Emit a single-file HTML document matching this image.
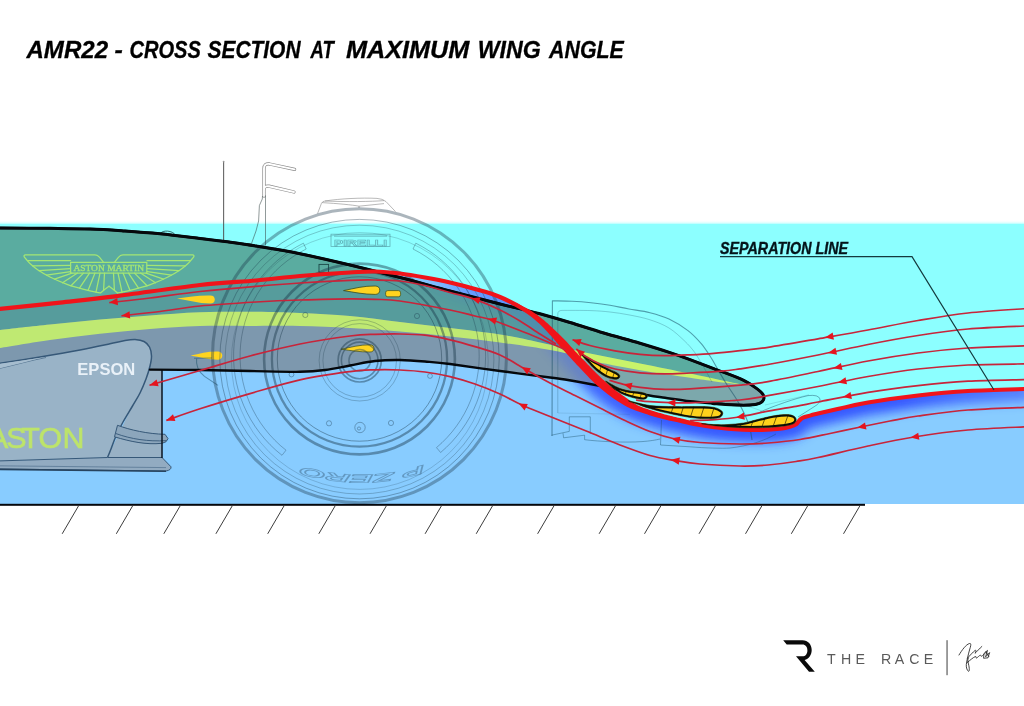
<!DOCTYPE html>
<html lang="en">
<head>
<meta charset="utf-8">
<title>AMR22 - Cross section at maximum wing angle</title>
<style>
html,body{margin:0;padding:0;background:#fff;}
body{width:1024px;height:706px;overflow:hidden;position:relative;font-family:"Liberation Sans",sans-serif;}
svg{display:block;position:absolute;left:0;top:0;}
text{font-family:"Liberation Sans",sans-serif;}
</style>
</head>
<body>
<svg width="1024" height="706" viewBox="0 0 1024 706">
<defs>
<clipPath id="above"><path d="M-5,309.4C-4.2,309.3 -10.8,310 0,308.9C10.8,307.8 40.8,304.7 60,302.6C79.2,300.5 91.7,299.3 115,296.4C138.3,293.5 176.5,287.6 200,285C223.5,282.4 239.3,282 256,280.5C272.7,279 284.3,277.3 300,276C315.7,274.7 337.5,273.2 350,272.5C362.5,271.8 366.7,271.3 375,271.5C383.3,271.7 391.7,272.5 400,273.5C408.3,274.5 416.7,276 425,277.5C433.3,279 441.7,280.6 450,282.5C458.3,284.4 466.7,286.6 475,289C483.3,291.4 491.7,293.5 500,297C508.3,300.5 518.3,305.9 525,310C531.7,314.1 535.5,317.5 540,321.5C544.5,325.5 547.8,329.3 552,334C556.2,338.7 561.2,344.7 565.5,349.5C569.8,354.3 573.8,358.5 578,363C582.2,367.5 587,372.7 591,376.7C595,380.7 598,383.6 602,387C606,390.4 610,393.7 615,397C620,400.3 626.2,404.3 632,407C637.8,409.7 644.4,411.4 650,413.2C655.6,415 660.4,416.3 665.6,417.6C670.8,418.9 675.8,419.8 681,421C686.2,422.2 689.2,423.3 697,424.6C704.8,425.9 717.6,427.9 728,428.8C738.4,429.7 750.7,430 759.4,430C768.1,430 774.8,429.4 780,428.8C785.2,428.2 787.9,427.4 790.6,426.6C793.4,425.8 795,425 796.5,424C798,423 798.2,421.7 799.3,420.6C800.4,419.5 801.2,418.4 803,417.6C804.8,416.8 807.5,416.3 810,415.6C812.5,414.9 813,414.8 818,413.6C823,412.4 831.7,410.4 840,408.5C848.3,406.6 855,404.7 868,402.5C881,400.3 901.3,397.4 918,395.5C934.7,393.6 950.3,392.1 968,391C985.7,389.9 1013.7,389.3 1024,389C1034.3,388.7 1029,389 1030,389L1030,200L-5,200Z"/></clipPath>
<clipPath id="below"><path d="M-5,309.4C-4.2,309.3 -10.8,310 0,308.9C10.8,307.8 40.8,304.7 60,302.6C79.2,300.5 91.7,299.3 115,296.4C138.3,293.5 176.5,287.6 200,285C223.5,282.4 239.3,282 256,280.5C272.7,279 284.3,277.3 300,276C315.7,274.7 337.5,273.2 350,272.5C362.5,271.8 366.7,271.3 375,271.5C383.3,271.7 391.7,272.5 400,273.5C408.3,274.5 416.7,276 425,277.5C433.3,279 441.7,280.6 450,282.5C458.3,284.4 466.7,286.6 475,289C483.3,291.4 491.7,293.5 500,297C508.3,300.5 518.3,305.9 525,310C531.7,314.1 535.5,317.5 540,321.5C544.5,325.5 547.8,329.3 552,334C556.2,338.7 561.2,344.7 565.5,349.5C569.8,354.3 573.8,358.5 578,363C582.2,367.5 587,372.7 591,376.7C595,380.7 598,383.6 602,387C606,390.4 610,393.7 615,397C620,400.3 626.2,404.3 632,407C637.8,409.7 644.4,411.4 650,413.2C655.6,415 660.4,416.3 665.6,417.6C670.8,418.9 675.8,419.8 681,421C686.2,422.2 689.2,423.3 697,424.6C704.8,425.9 717.6,427.9 728,428.8C738.4,429.7 750.7,430 759.4,430C768.1,430 774.8,429.4 780,428.8C785.2,428.2 787.9,427.4 790.6,426.6C793.4,425.8 795,425 796.5,424C798,423 798.2,421.7 799.3,420.6C800.4,419.5 801.2,418.4 803,417.6C804.8,416.8 807.5,416.3 810,415.6C812.5,414.9 813,414.8 818,413.6C823,412.4 831.7,410.4 840,408.5C848.3,406.6 855,404.7 868,402.5C881,400.3 901.3,397.4 918,395.5C934.7,393.6 950.3,392.1 968,391C985.7,389.9 1013.7,389.3 1024,389C1034.3,388.7 1029,389 1030,389L1030,520L-5,520Z"/></clipPath>
<clipPath id="noseclip"><path d="M-5,228C-4.2,228 -9.2,227.9 0,228C9.2,228.1 35,228.1 50,228.3C65,228.5 77.5,228.6 90,229C102.5,229.4 113.3,230.2 125,231C136.7,231.8 147.5,232.6 160,233.8C172.5,235.1 189.2,237.2 200,238.5C210.8,239.8 215.7,240.2 225,241.5C234.3,242.8 243.5,244 256,246C268.5,248 284.3,250.5 300,253.7C315.7,256.9 333.3,261 350,265C366.7,269 383.3,273.2 400,277.5C416.7,281.8 433.3,286.6 450,291C466.7,295.4 487.5,300.8 500,304C512.5,307.2 518.3,308.4 525,310C531.7,311.6 532.5,311.7 540,313.8C547.5,315.9 559.4,319.3 570,322.5C580.6,325.7 592,329.5 603.7,333C615.4,336.5 629,340 640,343.3C651,346.6 661.7,349.9 670,352.6C678.3,355.3 682.7,356.9 690,359.6C697.3,362.3 704.8,365.2 713.7,368.6C722.7,372.1 736.4,376.8 743.7,380.3C751.1,383.8 754.6,387 757.8,389.4C761,391.8 762,392.8 763,394.5C764,396.2 764.2,398 763.6,399.5C763,401 761.7,402.5 759.4,403.4C757.1,404.3 754.7,404.8 750,405C745.3,405.2 737.2,405.1 731,404.8C724.8,404.5 719.3,404 712.5,403.4C705.7,402.8 697.9,402.2 690,401.3C682.1,400.4 673.3,399 665,397.8C656.7,396.6 648.3,395.5 640,394C631.7,392.5 623.3,390.7 615,389C606.7,387.3 598.3,385.6 590,384C581.7,382.4 571.7,380.6 565,379.5C558.3,378.4 560.8,378.9 550,377.5C539.2,376.1 516.7,373.2 500,371C483.3,368.8 462.5,365.6 450,364C437.5,362.4 433.3,362.2 425,361.5C416.7,360.8 408.3,360.1 400,360C391.7,359.9 383.3,360.1 375,361C366.7,361.9 358.3,364 350,365.5C341.7,367 333.3,368.9 325,370C316.7,371.1 312.5,371.6 300,371.8C287.5,372 266.7,371.3 250,371C233.3,370.7 216.7,370.2 200,370C183.3,369.8 158.3,369.7 150,369.6L-5,369.6Z"/></clipPath>
<clipPath id="field"><rect x="0" y="223" width="1024" height="281"/></clipPath>
<filter id="blur4" x="-20%" y="-50%" width="140%" height="200%"><feGaussianBlur stdDeviation="5.5"/></filter>
<filter id="blur1" x="-5%" y="-5%" width="110%" height="110%"><feGaussianBlur stdDeviation="0.6"/></filter>
<linearGradient id="glowg" gradientUnits="userSpaceOnUse" x1="380" y1="0" x2="1024" y2="0"><stop offset="0" stop-color="#3050ff" stop-opacity="0"/><stop offset="0.06" stop-color="#3050ff" stop-opacity="0"/><stop offset="0.14" stop-color="#3050ff" stop-opacity="0.42"/><stop offset="0.24" stop-color="#3050ff" stop-opacity="0.5"/><stop offset="0.31" stop-color="#3050ff" stop-opacity="0.8"/><stop offset="0.45" stop-color="#2a48ff" stop-opacity="0.88"/><stop offset="0.80" stop-color="#2a48ff" stop-opacity="0.88"/><stop offset="1" stop-color="#3050ff" stop-opacity="0.6"/></linearGradient>
<linearGradient id="topfade" x1="0" y1="0" x2="0" y2="1"><stop offset="0" stop-color="#fff"/><stop offset="0.45" stop-color="#f0ffff"/><stop offset="0.75" stop-color="#c8ffff"/><stop offset="1" stop-color="#8cffff"/></linearGradient>
</defs>
<rect x="0" y="223.5" width="1024" height="280.5" fill="#88ccff"/>
<g clip-path="url(#field)"><path d="M-5,309.4C-4.2,309.3 -10.8,310 0,308.9C10.8,307.8 40.8,304.7 60,302.6C79.2,300.5 91.7,299.3 115,296.4C138.3,293.5 176.5,287.6 200,285C223.5,282.4 239.3,282 256,280.5C272.7,279 284.3,277.3 300,276C315.7,274.7 337.5,273.2 350,272.5C362.5,271.8 366.7,271.3 375,271.5C383.3,271.7 391.7,272.5 400,273.5C408.3,274.5 416.7,276 425,277.5C433.3,279 441.7,280.6 450,282.5C458.3,284.4 466.7,286.6 475,289C483.3,291.4 491.7,293.5 500,297C508.3,300.5 518.3,305.9 525,310C531.7,314.1 535.5,317.5 540,321.5C544.5,325.5 547.8,329.3 552,334C556.2,338.7 561.2,344.7 565.5,349.5C569.8,354.3 573.8,358.5 578,363C582.2,367.5 587,372.7 591,376.7C595,380.7 598,383.6 602,387C606,390.4 610,393.7 615,397C620,400.3 626.2,404.3 632,407C637.8,409.7 644.4,411.4 650,413.2C655.6,415 660.4,416.3 665.6,417.6C670.8,418.9 675.8,419.8 681,421C686.2,422.2 689.2,423.3 697,424.6C704.8,425.9 717.6,427.9 728,428.8C738.4,429.7 750.7,430 759.4,430C768.1,430 774.8,429.4 780,428.8C785.2,428.2 787.9,427.4 790.6,426.6C793.4,425.8 795,425 796.5,424C798,423 798.2,421.7 799.3,420.6C800.4,419.5 801.2,418.4 803,417.6C804.8,416.8 807.5,416.3 810,415.6C812.5,414.9 813,414.8 818,413.6C823,412.4 831.7,410.4 840,408.5C848.3,406.6 855,404.7 868,402.5C881,400.3 901.3,397.4 918,395.5C934.7,393.6 950.3,392.1 968,391C985.7,389.9 1013.7,389.3 1024,389C1034.3,388.7 1029,389 1030,389L1030,200L-5,200Z" fill="#8cffff"/></g>
<rect x="0" y="220.2" width="1024" height="4.3" fill="url(#topfade)"/>
<g clip-path="url(#below)"><g clip-path="url(#field)"><path d="M400,273.5C404.2,274.2 416.7,276 425,277.5C433.3,279 441.7,280.6 450,282.5C458.3,284.4 466.7,286.6 475,289C483.3,291.4 491.7,293.5 500,297C508.3,300.5 518.3,305.9 525,310C531.7,314.1 535.5,317.5 540,321.5C544.5,325.5 547.8,329.3 552,334C556.2,338.7 561.2,344.7 565.5,349.5C569.8,354.3 573.8,358.5 578,363C582.2,367.5 587,372.7 591,376.7C595,380.7 598,383.6 602,387C606,390.4 610,393.7 615,397C620,400.3 626.2,404.3 632,407C637.8,409.7 644.4,411.4 650,413.2C655.6,415 660.4,416.3 665.6,417.6C670.8,418.9 675.8,419.8 681,421C686.2,422.2 689.2,423.3 697,424.6C704.8,425.9 717.6,427.9 728,428.8C738.4,429.7 750.7,430 759.4,430C768.1,430 774.8,429.4 780,428.8C785.2,428.2 787.9,427.4 790.6,426.6C793.4,425.8 795,425 796.5,424C798,423 798.2,421.7 799.3,420.6C800.4,419.5 801.2,418.4 803,417.6C804.8,416.8 807.5,416.3 810,415.6C812.5,414.9 813,414.8 818,413.6C823,412.4 831.7,410.4 840,408.5C848.3,406.6 855,404.7 868,402.5C881,400.3 901.3,397.4 918,395.5C934.7,393.6 950.3,392.1 968,391C985.7,389.9 1013.7,389.3 1024,389C1034.3,388.7 1029,389 1030,389" fill="none" stroke="url(#glowg)" stroke-width="25" filter="url(#blur4)"/></g></g>
<g id="nose">
<g clip-path="url(#below)">
<path d="M-5,228C-4.2,228 -9.2,227.9 0,228C9.2,228.1 35,228.1 50,228.3C65,228.5 77.5,228.6 90,229C102.5,229.4 113.3,230.2 125,231C136.7,231.8 147.5,232.6 160,233.8C172.5,235.1 189.2,237.2 200,238.5C210.8,239.8 215.7,240.2 225,241.5C234.3,242.8 243.5,244 256,246C268.5,248 284.3,250.5 300,253.7C315.7,256.9 333.3,261 350,265C366.7,269 383.3,273.2 400,277.5C416.7,281.8 433.3,286.6 450,291C466.7,295.4 487.5,300.8 500,304C512.5,307.2 518.3,308.4 525,310C531.7,311.6 532.5,311.7 540,313.8C547.5,315.9 559.4,319.3 570,322.5C580.6,325.7 592,329.5 603.7,333C615.4,336.5 629,340 640,343.3C651,346.6 661.7,349.9 670,352.6C678.3,355.3 682.7,356.9 690,359.6C697.3,362.3 704.8,365.2 713.7,368.6C722.7,372.1 736.4,376.8 743.7,380.3C751.1,383.8 754.6,387 757.8,389.4C761,391.8 762,392.8 763,394.5C764,396.2 764.2,398 763.6,399.5C763,401 761.7,402.5 759.4,403.4C757.1,404.3 754.7,404.8 750,405C745.3,405.2 737.2,405.1 731,404.8C724.8,404.5 719.3,404 712.5,403.4C705.7,402.8 697.9,402.2 690,401.3C682.1,400.4 673.3,399 665,397.8C656.7,396.6 648.3,395.5 640,394C631.7,392.5 623.3,390.7 615,389C606.7,387.3 598.3,385.6 590,384C581.7,382.4 571.7,380.6 565,379.5C558.3,378.4 560.8,378.9 550,377.5C539.2,376.1 516.7,373.2 500,371C483.3,368.8 462.5,365.6 450,364C437.5,362.4 433.3,362.2 425,361.5C416.7,360.8 408.3,360.1 400,360C391.7,359.9 383.3,360.1 375,361C366.7,361.9 358.3,364 350,365.5C341.7,367 333.3,368.9 325,370C316.7,371.1 312.5,371.6 300,371.8C287.5,372 266.7,371.3 250,371C233.3,370.7 216.7,370.2 200,370C183.3,369.8 158.3,369.7 150,369.6L-5,369.6Z" fill="#7d98ae"/>
<g clip-path="url(#noseclip)"><path d="M-5,331C-4.2,330.8 -9.2,331.1 0,330C9.2,328.9 33.3,326.2 50,324.5C66.7,322.8 83.3,321 100,319.5C116.7,318 133.3,316.7 150,315.5C166.7,314.3 182.3,312.9 200,312.3C217.7,311.7 239.3,311.7 256,311.8C272.7,311.9 284.3,312.3 300,313C315.7,313.7 333.3,314.5 350,316C366.7,317.5 383.3,320 400,322C416.7,324 433.3,325.9 450,328C466.7,330.1 485,332.1 500,334.5C515,336.9 525,339.3 540,342.5C555,345.7 573.3,350.1 590,353.6C606.7,357.1 623.3,360.1 640,363.4C656.7,366.7 676.7,370.8 690,373.6C703.3,376.4 711.3,378.2 720,380C728.7,381.8 738.3,383.8 742,384.6L760,380L760,200L-5,200Z" fill="#569c9c"/></g>
<g clip-path="url(#noseclip)" opacity="0.36"><path d="M400,273.5C404.2,274.2 416.7,276 425,277.5C433.3,279 441.7,280.6 450,282.5C458.3,284.4 466.7,286.6 475,289C483.3,291.4 491.7,293.5 500,297C508.3,300.5 518.3,305.9 525,310C531.7,314.1 535.5,317.5 540,321.5C544.5,325.5 547.8,329.3 552,334C556.2,338.7 561.2,344.7 565.5,349.5C569.8,354.3 573.8,358.5 578,363C582.2,367.5 587,372.7 591,376.7C595,380.7 598,383.6 602,387C606,390.4 610,393.7 615,397C620,400.3 626.2,404.3 632,407C637.8,409.7 644.4,411.4 650,413.2C655.6,415 660.4,416.3 665.6,417.6C670.8,418.9 675.8,419.8 681,421C686.2,422.2 689.2,423.3 697,424.6C704.8,425.9 717.6,427.9 728,428.8C738.4,429.7 750.7,430 759.4,430C768.1,430 774.8,429.4 780,428.8C785.2,428.2 787.9,427.4 790.6,426.6C793.4,425.8 795,425 796.5,424C798,423 798.2,421.7 799.3,420.6C800.4,419.5 801.2,418.4 803,417.6C804.8,416.8 807.5,416.3 810,415.6C812.5,414.9 813,414.8 818,413.6C823,412.4 831.7,410.4 840,408.5C848.3,406.6 855,404.7 868,402.5C881,400.3 901.3,397.4 918,395.5C934.7,393.6 950.3,392.1 968,391C985.7,389.9 1013.7,389.3 1024,389C1034.3,388.7 1029,389 1030,389" fill="none" stroke="url(#glowg)" stroke-width="25" filter="url(#blur4)"/></g>
<path d="M-5,331C-4.2,330.8 -9.2,331.1 0,330C9.2,328.9 33.3,326.2 50,324.5C66.7,322.8 83.3,321 100,319.5C116.7,318 133.3,316.7 150,315.5C166.7,314.3 182.3,312.9 200,312.3C217.7,311.7 239.3,311.7 256,311.8C272.7,311.9 284.3,312.3 300,313C315.7,313.7 333.3,314.5 350,316C366.7,317.5 383.3,320 400,322C416.7,324 433.3,325.9 450,328C466.7,330.1 485,332.1 500,334.5C515,336.9 525,339.3 540,342.5C555,345.7 573.3,350.1 590,353.6C606.7,357.1 623.3,360.1 640,363.4C656.7,366.7 676.7,370.8 690,373.6C703.3,376.4 711.3,378.2 720,380C728.7,381.8 738.3,383.8 742,384.6C737.5,384.1 723.7,382.5 715,381.4C706.3,380.3 702.5,379.7 690,377.8C677.5,375.9 656.7,373.1 640,370.2C623.3,367.3 600.8,363.1 590,360.6C579.2,358.2 581.7,357.3 575,355.5C568.3,353.7 562.5,352.2 550,350C537.5,347.8 516.7,344.8 500,342.5C483.3,340.2 466.7,338.3 450,336.5C433.3,334.7 416.7,332.9 400,331.5C383.3,330.1 366.7,328.9 350,328C333.3,327.1 315.7,326.3 300,326C284.3,325.7 272.7,326 256,326C239.3,326 217.7,325.5 200,326C182.3,326.5 166.7,327.7 150,329C133.3,330.3 116.7,332 100,333.8C83.3,335.6 66.7,337.6 50,340C33.3,342.4 9.2,346.5 0,348C-9.2,349.5 -4.2,348.8 -5,349Z" fill="#bfe972"/>
</g>
<g clip-path="url(#above)">
<path d="M-5,228C-4.2,228 -9.2,227.9 0,228C9.2,228.1 35,228.1 50,228.3C65,228.5 77.5,228.6 90,229C102.5,229.4 113.3,230.2 125,231C136.7,231.8 147.5,232.6 160,233.8C172.5,235.1 189.2,237.2 200,238.5C210.8,239.8 215.7,240.2 225,241.5C234.3,242.8 243.5,244 256,246C268.5,248 284.3,250.5 300,253.7C315.7,256.9 333.3,261 350,265C366.7,269 383.3,273.2 400,277.5C416.7,281.8 433.3,286.6 450,291C466.7,295.4 487.5,300.8 500,304C512.5,307.2 518.3,308.4 525,310C531.7,311.6 532.5,311.7 540,313.8C547.5,315.9 559.4,319.3 570,322.5C580.6,325.7 592,329.5 603.7,333C615.4,336.5 629,340 640,343.3C651,346.6 661.7,349.9 670,352.6C678.3,355.3 682.7,356.9 690,359.6C697.3,362.3 704.8,365.2 713.7,368.6C722.7,372.1 736.4,376.8 743.7,380.3C751.1,383.8 754.6,387 757.8,389.4C761,391.8 762,392.8 763,394.5C764,396.2 764.2,398 763.6,399.5C763,401 761.7,402.5 759.4,403.4C757.1,404.3 754.7,404.8 750,405C745.3,405.2 737.2,405.1 731,404.8C724.8,404.5 719.3,404 712.5,403.4C705.7,402.8 697.9,402.2 690,401.3C682.1,400.4 673.3,399 665,397.8C656.7,396.6 648.3,395.5 640,394C631.7,392.5 623.3,390.7 615,389C606.7,387.3 598.3,385.6 590,384C581.7,382.4 571.7,380.6 565,379.5C558.3,378.4 560.8,378.9 550,377.5C539.2,376.1 516.7,373.2 500,371C483.3,368.8 462.5,365.6 450,364C437.5,362.4 433.3,362.2 425,361.5C416.7,360.8 408.3,360.1 400,360C391.7,359.9 383.3,360.1 375,361C366.7,361.9 358.3,364 350,365.5C341.7,367 333.3,368.9 325,370C316.7,371.1 312.5,371.6 300,371.8C287.5,372 266.7,371.3 250,371C233.3,370.7 216.7,370.2 200,370C183.3,369.8 158.3,369.7 150,369.6L-5,369.6Z" fill="#7ca8ac"/>
<g clip-path="url(#noseclip)"><path d="M-5,331C-4.2,330.8 -9.2,331.1 0,330C9.2,328.9 33.3,326.2 50,324.5C66.7,322.8 83.3,321 100,319.5C116.7,318 133.3,316.7 150,315.5C166.7,314.3 182.3,312.9 200,312.3C217.7,311.7 239.3,311.7 256,311.8C272.7,311.9 284.3,312.3 300,313C315.7,313.7 333.3,314.5 350,316C366.7,317.5 383.3,320 400,322C416.7,324 433.3,325.9 450,328C466.7,330.1 485,332.1 500,334.5C515,336.9 525,339.3 540,342.5C555,345.7 573.3,350.1 590,353.6C606.7,357.1 623.3,360.1 640,363.4C656.7,366.7 676.7,370.8 690,373.6C703.3,376.4 711.3,378.2 720,380C728.7,381.8 738.3,383.8 742,384.6L770,383L770,200L-5,200Z" fill="#5aaca0"/></g>
<path d="M-5,331C-4.2,330.8 -9.2,331.1 0,330C9.2,328.9 33.3,326.2 50,324.5C66.7,322.8 83.3,321 100,319.5C116.7,318 133.3,316.7 150,315.5C166.7,314.3 182.3,312.9 200,312.3C217.7,311.7 239.3,311.7 256,311.8C272.7,311.9 284.3,312.3 300,313C315.7,313.7 333.3,314.5 350,316C366.7,317.5 383.3,320 400,322C416.7,324 433.3,325.9 450,328C466.7,330.1 485,332.1 500,334.5C515,336.9 525,339.3 540,342.5C555,345.7 573.3,350.1 590,353.6C606.7,357.1 623.3,360.1 640,363.4C656.7,366.7 676.7,370.8 690,373.6C703.3,376.4 711.3,378.2 720,380C728.7,381.8 738.3,383.8 742,384.6C737.5,384.1 723.7,382.5 715,381.4C706.3,380.3 702.5,379.7 690,377.8C677.5,375.9 656.7,373.1 640,370.2C623.3,367.3 600.8,363.1 590,360.6C579.2,358.2 581.7,357.3 575,355.5C568.3,353.7 562.5,352.2 550,350C537.5,347.8 516.7,344.8 500,342.5C483.3,340.2 466.7,338.3 450,336.5C433.3,334.7 416.7,332.9 400,331.5C383.3,330.1 366.7,328.9 350,328C333.3,327.1 315.7,326.3 300,326C284.3,325.7 272.7,326 256,326C239.3,326 217.7,325.5 200,326C182.3,326.5 166.7,327.7 150,329C133.3,330.3 116.7,332 100,333.8C83.3,335.6 66.7,337.6 50,340C33.3,342.4 9.2,346.5 0,348C-9.2,349.5 -4.2,348.8 -5,349Z" fill="#c9f36a"/>
</g>
</g>
<g id="ghost-back">
</g>
<g id="endplate">
<path d="M150,369.6 L162,369.6 L162,458 L107,458 Z" fill="#98b1c5"/>
<path d="M-3,363.8C4.2,362.7 26.2,359.3 40,357C53.8,354.7 68.3,352.2 80,350C91.7,347.8 102.5,345.4 110,343.8C117.5,342.2 120.8,341.3 125,340.6C129.2,339.9 131.8,339.5 135,339.6C138.2,339.8 141.6,340.3 144,341.5C146.4,342.7 148.2,344.6 149.5,347C150.8,349.4 151.4,352.8 151.5,356C151.6,359.2 150.9,362.2 150,366C149.1,369.8 147.7,374.5 146,379C144.3,383.5 142.2,388.5 140,393C137.8,397.5 135.3,401.2 132.5,406C129.7,410.8 125.8,417 123,422C120.2,427 118,431.5 116,436C114,440.5 112.4,445.4 111,449C109.6,452.6 108.1,456.1 107.5,457.5L-3,461 Z" fill="#99b3c7"/>
<path d="M-3,363.8C4.2,362.7 26.2,359.3 40,357C53.8,354.7 68.3,352.2 80,350C91.7,347.8 102.5,345.4 110,343.8C117.5,342.2 120.8,341.3 125,340.6C129.2,339.9 131.8,339.5 135,339.6C138.2,339.8 141.6,340.3 144,341.5C146.4,342.7 148.2,344.6 149.5,347C150.8,349.4 151.4,352.8 151.5,356C151.6,359.2 150.9,362.2 150,366C149.1,369.8 147.7,374.5 146,379C144.3,383.5 142.2,388.5 140,393C137.8,397.5 135.3,401.2 132.5,406C129.7,410.8 125.8,417 123,422C120.2,427 118,431.5 116,436C114,440.5 112.4,445.4 111,449C109.6,452.6 108.1,456.1 107.5,457.5" fill="none" stroke="#365878" stroke-width="1.5"/>
<path d="M-3,369 C15,365 30,360.5 46,357.5" fill="none" stroke="#365878" stroke-width="0.8" stroke-opacity="0.8"/>
<path d="M-3,368.8 C15,365 30,360.5 46,357 L-3,364.2Z" fill="#a6bdcf"/>
<path d="M-3,461 L107.5,457.5 L162,457.5 L171,466.8 Q171.5,470 166,471 L-3,469 Z" fill="#92abc1" stroke="#365878" stroke-width="1"/>
<path d="M-3,465.8 L166,467.6" fill="none" stroke="#365878" stroke-width="0.7" stroke-opacity="0.7"/>
<path d="M-3,469.3 L166,471.2" fill="none" stroke="#27435e" stroke-width="1.6"/>
<path d="M117.5,425.3 C130,430 148,434 165,434.3 L168,438.6 Q167,442.5 162,443.3 C146,445 130,441.5 114.5,436.8 Z" fill="#8ca6bc" stroke="#365878" stroke-width="1"/>
<path d="M116,433.6 C131,439 148,441.8 166.5,440.6" fill="none" stroke="#365878" stroke-width="0.9"/>
<path d="M162,369 L162,458" fill="none" stroke="#0a1420" stroke-width="1.5"/>
<text x="77.3" y="375.3" font-size="16.6" font-weight="700" fill="#e9f1f8" textLength="58" lengthAdjust="spacingAndGlyphs">EPSON</text>
<text x="-12 6.2 21.2 38.6 62.6" y="448.4" font-size="30.4" font-weight="400" fill="#bde46a" stroke="#bde46a" stroke-width="0.6">ASTON</text>
</g>
<g id="teardrops">
<path d="M177,298.6 C188.3,296.6 197.8,295.2 210.3,295.4 C213.2,295.4 214.8,297 214.8,299.5 C214.8,302 213.2,303.6 210.3,303.6 C197.8,303.6 188.3,300.2 177,298.6Z" fill="#ffd41f"/>
<path d="M343.5,290.6 C354.4,288.5 363.5,285.8 375.2,286 C378.1,286 379.8,287.7 379.8,290.2 C379.8,292.7 378.1,294.4 375.2,294.4 C363.5,294.4 354.4,292.3 343.5,290.6Z" fill="#ffd41f" stroke="#3a4a20" stroke-width="0.8"/>
<rect x="385.6" y="290.6" width="15" height="6.2" rx="2.2" fill="#ffd41f" stroke="#3a4a20" stroke-width="0.7"/>
<path d="M190.5,355.6 C200,353.5 208,351.2 217.7,351.4 C220.6,351.4 222.3,353.1 222.3,355.6 C222.3,358.1 220.6,359.8 217.7,359.8 C208,359.8 200,357.3 190.5,355.6Z" fill="#ffd41f"/>
<path d="M341,349.2 C350.9,347.4 359.1,344.7 370,344.8 C372.6,344.8 374,346.2 374,348.4 C374,350.6 372.6,352 370,352 C359.1,352 350.9,350.6 341,349.2Z" fill="#ffd41f" stroke="#3a4a20" stroke-width="0.7"/>
</g>
<g id="am-wings" fill="none" stroke="#a4e673" stroke-width="1.25" stroke-linejoin="round" stroke-linecap="round">
<path d="M103.2,261.8 L99.4,257.2 Q97.6,254.8 95,254.8 L25.6,254.8 Q23.2,255 24.4,257.2 L26,259 C26.8,259.8 28.5,262.2 30.5,264C32.5,265.8 34.8,267.8 38,270C41.2,272.2 45.2,274.6 50,277C54.8,279.4 61.3,282.2 67,284.3C72.7,286.4 79.2,288 84,289.3C88.8,290.6 93.2,291.6 96,292.2C98.8,292.8 99.8,292.9 100.5,293 L104.6,289.6 L109,286.2"/>
<path d="M114.8,261.8 L118.6,257.2 Q120.4,254.8 123,254.8 L192.4,254.8 Q194.8,255 193.6,257.2 L192,259 C191.2,259.8 189.5,262.2 187.5,264C185.5,265.8 183.2,267.8 180,270C176.8,272.2 172.8,274.6 168,277C163.2,279.4 156.7,282.2 151,284.3C145.3,286.4 138.8,288 134,289.3C129.2,290.6 124.8,291.6 122,292.2C119.2,292.8 118.2,292.9 117.5,293 L113.4,289.6 L109,286.2"/>
<rect x="70.6" y="262.3" width="76.2" height="10.8"/>
<path d="M27.5,260.6 L70.6,260.6 M190.5,260.6 L147,260.6"/>
<path d="M70.6,265.4 L32.6,265.8"/>
<path d="M147.4,265.4 L185.4,265.8"/>
<path d="M70.6,268.6 L39,270.6"/>
<path d="M147.4,268.6 L179,270.6"/>
<path d="M70.6,271.6 L46.5,275.2"/>
<path d="M147.4,271.6 L171.5,275.2"/>
<path d="M72,273.1 L54.5,279.2"/>
<path d="M146,273.1 L163.5,279.2"/>
<path d="M77.5,273.1 L62.5,282.8"/>
<path d="M140.5,273.1 L155.5,282.8"/>
<path d="M83.5,273.1 L71,285.8"/>
<path d="M134.5,273.1 L147,285.8"/>
<path d="M89.5,273.1 L79.5,288.2"/>
<path d="M128.5,273.1 L138.5,288.2"/>
<path d="M95,273.1 L88,290.4"/>
<path d="M123,273.1 L130,290.4"/>
<path d="M100,273.1 L96,292.2"/>
<path d="M118,273.1 L122,292.2"/>
<path d="M104.5,273.1 L103.6,290.2"/>
<path d="M113.5,273.1 L114.4,290.2"/>
</g>
<text x="73.4" y="271.4" font-size="8.8" style="font-family:Liberation Serif,serif" fill="#a4e673" stroke="#a4e673" stroke-width="0.3" textLength="70.6" lengthAdjust="spacingAndGlyphs">ASTON MARTIN</text>
<g id="nose-bits" fill="none">
<path d="M223.6,161.5 L223.6,241.5" stroke="#4a4a4a" stroke-width="1.1" stroke-opacity="0.85"/>
<circle cx="223.6" cy="161.6" r="0.9" fill="#9a9a9a"/>
<path d="M294.6,169.4 L269.5,164 Q264,163.2 264,168.6 L264,196 M264,190.2 Q264,185.4 269,186.2 L294,192" stroke="#8c8c8c" stroke-width="3.3" stroke-linecap="round" stroke-linejoin="round"/>
<path d="M294.6,169.4 L269.5,164 Q264,163.2 264,168.6 L264,196 M264,190.2 Q264,185.4 269,186.2 L294,192" stroke="#ffffff" stroke-width="1.9" stroke-linecap="round" stroke-linejoin="round"/>
<path d="M262.5,196 L262.3,199 L259.4,205.5 L258.6,221 L256,231 L251.5,243.5" stroke="#3a4a4a" stroke-opacity="0.7" stroke-width="0.8"/>
<path d="M265.5,195.5 L265.5,245.5" stroke="#3a4a4a" stroke-opacity="0.7" stroke-width="0.8"/>
<path d="M160.6,233.6 C162,229.8 173,230.2 175.6,235.4" stroke="#1a4a4a" stroke-width="1" stroke-opacity="0.8"/>
<rect x="319" y="264.4" width="9.6" height="8" stroke="#10383a" stroke-width="0.9" stroke-opacity="0.85"/>
</g>
<g id="ghost" fill="none" stroke="#1c5068" stroke-linejoin="round">
<path d="M552,436 L552.4,300.8 C555.7,300.9 565.6,300.9 572,301.2C578.4,301.5 584.7,302 591,302.7C597.3,303.4 603.7,304.2 610,305.3C616.3,306.4 622.3,307.8 629,309C635.7,310.2 643.3,311 650,312.7C656.7,314.4 662.7,316 669,319C675.3,322 682.7,326.6 688,330.6C693.3,334.7 697.3,339.1 701,343.3C704.7,347.5 707.2,351.8 710,356C712.8,360.2 714.8,364.1 717.5,368.8C720.2,373.5 723.2,378.8 726.5,384C729.8,389.2 733.9,394.8 737,400C740.1,405.2 742.8,410.2 745,415C747.2,419.8 748.8,424.8 750,429C751.2,433.2 751.7,438.2 752,440" stroke-width="1.1" stroke-opacity="0.55"/>
<path d="M557.8,413 L557.8,314 Q557.8,310.4 562,310.4 C566.8,310.4 583,310.3 591,310.6C599,310.9 603.7,311.3 610,312C616.3,312.7 622.3,313.6 629,314.9C635.7,316.2 643.3,317.6 650,319.8C656.7,322 663.3,324.5 669,328C674.7,331.5 680.1,336.8 684.4,340.8C688.7,344.9 691.5,348.1 694.6,352.3C697.7,356.5 700.1,361.1 703,366C705.9,370.9 710.5,379.3 712,382" stroke-width="0.9" stroke-opacity="0.3"/>
<path d="M551.6,435.2 L569.3,431.4 L569.3,416.8 L590.3,416.8 L590.3,434 M563,433.2 L563.6,437.8 L584.6,435.2 L584.6,439.7 C600,441.6 625,442.8 642,441.6 C650,441 656,440 660,439 M661.5,420 L660.5,445 L690,446.8 C705,448 722,448.6 730,448 C748,446 764,441 776,434" stroke-width="1" stroke-opacity="0.42"/>
<path d="M557.8,413 L630,414.4" stroke-width="0.8" stroke-opacity="0.16"/>
<path d="M760,412 C775,405.5 795,398.5 808,395.6 Q818.5,394.4 820,399 Q820.6,403 814,406.8 L798,417" stroke-width="1" stroke-opacity="0.45"/>
<path d="M765,405 L809,394.8 M730,400 L762,411" stroke-width="0.8" stroke-opacity="0.22"/>
<path d="M194,358.2 L212,358 M196.6,358.4 C195.6,366 199,372 204.5,376.4 L218,385.4" stroke-width="1.1" stroke-opacity="0.5"/>
</g>
<g id="wheel">
<g fill="none" stroke="#8a8a8a" stroke-opacity="0.75" stroke-width="0.8" stroke-linejoin="round">
<path d="M317.6,213.5 L321.5,203.2 Q322.5,201.2 325,201 C340,198.6 362,197.6 377,198.4 Q383,198.8 386,201.6 L395.5,211.6"/>
<path d="M322,202.6 C338,203.6 352,204.8 359,206.2 L384,203.6"/>
<path d="M325,201 C345,202 372,201.6 384,200.6 M359,206 L359,208"/>
</g>
<circle cx="359.5" cy="355.7" r="147" fill="none" stroke="#1a3648" stroke-width="3.0" stroke-opacity="0.37"/>
<circle cx="359.5" cy="359.1" r="139.7" fill="none" stroke="#1a3648" stroke-width="1.0" stroke-opacity="0.36"/>
<circle cx="359.5" cy="359.6" r="134.4" fill="none" stroke="#1a3648" stroke-width="0.9" stroke-opacity="0.3"/>
<circle cx="359.8" cy="361" r="128.4" fill="none" stroke="#1a3648" stroke-width="0.8" stroke-opacity="0.26"/>
<path d="M415.8,243.2 A126,126 0 0 1 440.6,452.5 L436.5,447.6 A119.6,119.6 0 0 0 413,249 Z" fill="none" stroke="#1a3648" stroke-width="0.9" stroke-opacity="0.36"/>
<path d="M282,455.3 A126,126 0 0 1 303.4,243.2 L306.2,249 A119.6,119.6 0 0 0 286,450.2 Z" fill="none" stroke="#1a3648" stroke-width="0.9" stroke-opacity="0.36"/>
<circle cx="359.5" cy="359" r="95.4" fill="none" stroke="#1a3648" stroke-width="2.6" stroke-opacity="0.44"/>
<circle cx="359.5" cy="359" r="87.6" fill="none" stroke="#1a3648" stroke-width="2.3" stroke-opacity="0.44"/>
<circle cx="359.5" cy="359" r="82.2" fill="none" stroke="#1a3648" stroke-width="1.0" stroke-opacity="0.42"/>
<circle cx="359.7" cy="360.4" r="40.6" fill="none" stroke="#1a3648" stroke-width="0.9" stroke-opacity="0.3"/>
<circle cx="359.7" cy="360.4" r="36.8" fill="none" stroke="#1a3648" stroke-width="0.9" stroke-opacity="0.3"/>
<circle cx="359.7" cy="360.4" r="21.6" fill="none" stroke="#1a3648" stroke-width="1.7" stroke-opacity="0.44"/>
<circle cx="359.7" cy="360.4" r="18.3" fill="none" stroke="#1a3648" stroke-width="1.6" stroke-opacity="0.44"/>
<circle cx="359.7" cy="360.4" r="10.8" fill="none" stroke="#1a3648" stroke-width="1.5" stroke-opacity="0.4"/>
<circle cx="305.3" cy="315" r="2.6" fill="none" stroke="#1a3648" stroke-width="0.9" stroke-opacity="0.4"/>
<circle cx="417" cy="316" r="2.6" fill="none" stroke="#1a3648" stroke-width="0.9" stroke-opacity="0.4"/>
<circle cx="291.5" cy="374.5" r="2.4" fill="none" stroke="#1a3648" stroke-width="0.9" stroke-opacity="0.4"/>
<circle cx="430" cy="376" r="2.4" fill="none" stroke="#1a3648" stroke-width="0.9" stroke-opacity="0.4"/>
<circle cx="329" cy="423.3" r="2.6" fill="none" stroke="#1a3648" stroke-width="0.9" stroke-opacity="0.4"/>
<circle cx="391" cy="423" r="2.6" fill="none" stroke="#1a3648" stroke-width="0.9" stroke-opacity="0.4"/>
<circle cx="360" cy="427.5" r="5.2" fill="none" stroke="#1a3648" stroke-width="0.9" stroke-opacity="0.4"/>
<circle cx="359" cy="428.5" r="1.6" fill="none" stroke="#1a3648" stroke-width="0.9" stroke-opacity="0.4"/>
<rect x="331" y="234.2" width="59" height="12.2" fill="none" stroke="#1a3648" stroke-width="0.8" stroke-opacity="0.38"/>
<path d="M334,236.2 L387,236.2" fill="none" stroke="#1a3648" stroke-width="1.2" stroke-opacity="0.3"/>
<text x="334" y="245.6" font-size="9.4" font-weight="700" fill="none" stroke="#1a3648" stroke-width="0.6" stroke-opacity="0.42" textLength="53" lengthAdjust="spacingAndGlyphs">PIRELLI</text>
<path id="pz" d="M424,464.5 A205,205 0 0 1 298,465" fill="none"/>
<text font-size="11.6" font-weight="700" font-style="italic" fill="none" stroke="#1a3648" stroke-width="0.7" stroke-opacity="0.34"><textPath href="#pz" startOffset="1" textLength="124" lengthAdjust="spacingAndGlyphs">P ZERO</textPath></text>
</g>
<g id="nose-outline" fill="none" stroke="#05080c" stroke-linejoin="round" stroke-linecap="round">
<path d="M-5,228C-4.2,228 -9.2,227.9 0,228C9.2,228.1 35,228.1 50,228.3C65,228.5 77.5,228.6 90,229C102.5,229.4 113.3,230.2 125,231C136.7,231.8 147.5,232.6 160,233.8C172.5,235.1 189.2,237.2 200,238.5C210.8,239.8 215.7,240.2 225,241.5C234.3,242.8 243.5,244 256,246C268.5,248 284.3,250.5 300,253.7C315.7,256.9 333.3,261 350,265C366.7,269 383.3,273.2 400,277.5C416.7,281.8 433.3,286.6 450,291C466.7,295.4 487.5,300.8 500,304C512.5,307.2 518.3,308.4 525,310C531.7,311.6 532.5,311.7 540,313.8C547.5,315.9 559.4,319.3 570,322.5C580.6,325.7 592,329.5 603.7,333C615.4,336.5 629,340 640,343.3C651,346.6 661.7,349.9 670,352.6C678.3,355.3 682.7,356.9 690,359.6C697.3,362.3 704.8,365.2 713.7,368.6C722.7,372.1 736.4,376.8 743.7,380.3C751.1,383.8 754.6,387 757.8,389.4C761,391.8 762,392.8 763,394.5C764,396.2 764.2,398 763.6,399.5C763,401 761.7,402.5 759.4,403.4C757.1,404.3 754.7,404.8 750,405C745.3,405.2 737.2,405.1 731,404.8C724.8,404.5 719.3,404 712.5,403.4C705.7,402.8 697.9,402.2 690,401.3C682.1,400.4 673.3,399 665,397.8C656.7,396.6 648.3,395.5 640,394C631.7,392.5 623.3,390.7 615,389C606.7,387.3 598.3,385.6 590,384C581.7,382.4 571.7,380.6 565,379.5C558.3,378.4 560.8,378.9 550,377.5C539.2,376.1 516.7,373.2 500,371C483.3,368.8 462.5,365.6 450,364C437.5,362.4 433.3,362.2 425,361.5C416.7,360.8 408.3,360.1 400,360C391.7,359.9 383.3,360.1 375,361C366.7,361.9 358.3,364 350,365.5C341.7,367 333.3,368.9 325,370C316.7,371.1 312.5,371.6 300,371.8C287.5,372 266.7,371.3 250,371C233.3,370.7 216.7,370.2 200,370C183.3,369.8 158.3,369.7 150,369.6" stroke-width="2.4"/>
<path d="M-5,228C-4.2,228 -9.2,227.9 0,228C9.2,228.1 35,228.1 50,228.3C65,228.5 77.5,228.6 90,229C102.5,229.4 113.3,230.2 125,231C136.7,231.8 147.5,232.6 160,233.8C172.5,235.1 189.2,237.2 200,238.5C210.8,239.8 215.7,240.2 225,241.5C234.3,242.8 243.5,244 256,246C268.5,248 284.3,250.5 300,253.7C315.7,256.9 333.3,261 350,265C366.7,269 383.3,273.2 400,277.5C416.7,281.8 433.3,286.6 450,291C466.7,295.4 487.5,300.8 500,304C512.5,307.2 518.3,308.4 525,310C531.7,311.6 532.5,311.7 540,313.8C547.5,315.9 559.4,319.3 570,322.5C580.6,325.7 592,329.5 603.7,333C615.4,336.5 629,340 640,343.3C651,346.6 661.7,349.9 670,352.6C678.3,355.3 682.7,356.9 690,359.6C697.3,362.3 704.8,365.2 713.7,368.6C722.7,372.1 736.4,376.8 743.7,380.3C751.1,383.8 754.6,387 757.8,389.4C761,391.8 762,392.8 763,394.5C764,396.2 764.2,398 763.6,399.5C763,401 761.7,402.5 759.4,403.4C757.1,404.3 754.7,404.8 750,405C745.3,405.2 737.2,405.1 731,404.8C724.8,404.5 715.6,403.6 712.5,403.4" stroke-width="3"/>
</g>
<path d="M516.6,303L519.2,304.4L521.6,305.7L524,306.9L526.2,308L528.2,309.1L530.1,310.2L531.9,311.3L533.6,312.4L535.2,313.5L536.7,314.5L538.1,315.6L539.5,316.7L540.9,317.8L542.3,318.9L543.8,320.1L545.1,321.2L546.5,322.4L547.8,323.6L549,324.7L550.3,325.9L551.6,327.1L552.8,328.3L554.1,329.6L555.5,330.8L556.9,332.2L558.4,333.6L559.9,335.1L561.4,336.6L562.9,338.1L564.4,339.6L565.9,341.1L567.3,342.6L568.6,344.1L569.9,345.5L571.2,346.9L572.5,348.3L573.7,349.6L574.9,351L576.2,352.3L577.4,353.6L578.6,354.9L579.9,356.2L581.1,357.5L582.4,358.9L583.7,360.2L585.1,361.6L586.4,363L587.7,364.4L589.1,365.8L590.4,367.2L591.7,368.6L593,369.9L594.2,371.1L595.4,372.3L596.6,373.5L597.7,374.5L598.7,375.6L599.8,376.6L600.8,377.5L601.8,378.5L602.8,379.4L603.9,380.3L604.9,381.3L606,382.3L607.2,383.3L608.3,384.3L609.5,385.3L610.6,386.3L611.8,387.3L613,388.3L614.3,389.3L615.5,390.2L616.8,391.2L618.2,392.2L619.7,393.3L621.2,394.3L622.8,395.4L624.4,396.5L626,397.7L627.5,398.8L629.1,400L630.7,401.1L632.2,402.1L633.8,403.1L635.4,404L637,404.9L638.6,405.8L640.3,406.6L642.1,407.3L643.9,407.9L645.7,408.5L647.5,409.1L649.2,409.7L650.9,410.2L652.6,410.8L654.2,411.3L655.7,411.8L657.3,412.2L658.8,412.7L660.3,413.1L661.8,413.6L663.3,414L664.8,414.4L666.3,414.8L667.8,415.2L669.3,415.6L670.8,416L672.3,416.3L673.8,416.7L675.4,417L676.9,417.4L678.4,417.7L680,418.1L681.6,418.5L683.1,418.8L684.6,419.2L685.9,419.5L687.3,419.9L688.6,420.3L690.1,420.6L691.6,421L693.3,421.3L695.2,421.7L697.4,422.1L699.9,422.5L702.6,423L705.6,423.4L708.7,423.9L711.9,424.4L715.2,424.9L718.5,425.3L721.8,425.7L725.1,426.1L728.2,426.4L731.3,426.7L734.6,426.9L737.9,427.1L741.2,427.2L744.4,427.4L747.7,427.5L750.8,427.6L753.8,427.6L756.7,427.7L759.4,427.7L761.9,427.7L764.3,427.7L766.6,427.6L768.8,427.5L770.9,427.4L772.8,427.3L774.7,427.2L776.5,427L778.2,426.9L779.8,426.7L781.2,426.6L782.5,426.4L783.7,426.2L784.8,426L785.8,425.8L786.7,425.6L787.6,425.4L788.4,425.1L789.2,424.9L790,424.7L790.8,424.5L791.5,424.2L792.1,424L792.7,423.8L793.2,423.6L793.7,423.4L794.2,423.1L794.6,422.9L795,422.7L795.4,422.4L795.6,422.2L795.9,422L796,421.8L796.2,421.6L796.4,421.3L796.6,420.9L796.9,420.6L797.2,420.1L797.5,419.7L797.9,419.3L798.3,418.9L798.6,418.6L798.9,418.3L799.2,418L799.6,417.6L800.9,419L800.6,419.3L800.2,419.6L799.9,420L799.6,420.3L799.3,420.6L799,420.9L798.7,421.3L798.5,421.6L798.3,422L798,422.3L797.8,422.7L797.5,423L797.2,423.4L796.9,423.7L796.5,424L796.1,424.3L795.6,424.6L795.1,424.9L794.6,425.1L794,425.4L793.4,425.6L792.8,425.9L792.1,426.1L791.4,426.4L790.6,426.6L789.8,426.8L788.9,427.1L788.1,427.3L787.2,427.6L786.2,427.8L785.2,428L784.1,428.2L782.8,428.4L781.5,428.6L780,428.8L778.4,429L776.7,429.1L774.9,429.3L773,429.5L771,429.6L768.9,429.7L766.7,429.8L764.4,429.9L761.9,430L759.4,430L756.7,430L753.8,430L750.8,429.9L747.6,429.8L744.3,429.7L741,429.6L737.7,429.5L734.4,429.3L731.2,429.1L728,428.8L724.8,428.5L721.5,428.1L718.2,427.7L714.9,427.3L711.5,426.9L708.3,426.4L705.2,425.9L702.2,425.4L699.5,425L697,424.6L694.8,424.2L692.8,423.8L691.1,423.5L689.5,423.1L688,422.8L686.6,422.4L685.3,422L683.9,421.7L682.5,421.3L681,421L679.4,420.7L677.9,420.3L676.3,420L674.8,419.7L673.3,419.4L671.7,419L670.2,418.7L668.7,418.3L667.1,418L665.6,417.6L664.1,417.2L662.5,416.8L661,416.4L659.5,416L658,415.6L656.4,415.1L654.9,414.7L653.3,414.2L651.7,413.7L650,413.2L648.3,412.7L646.5,412.1L644.7,411.6L642.9,411L641.1,410.4L639.2,409.8L637.4,409.2L635.6,408.5L633.8,407.8L632,407L630.2,406.2L628.5,405.2L626.7,404.3L624.9,403.3L623.2,402.2L621.5,401.2L619.8,400.1L618.1,399.1L616.5,398L615,397L613.5,396L612.1,395L610.7,394L609.4,393L608.1,392L606.9,391L605.6,390L604.4,389L603.2,388L602,387L600.8,386L599.7,385L598.6,384L597.6,383.1L596.5,382.1L595.4,381.1L594.4,380L593.3,379L592.2,377.9L591,376.7L589.8,375.5L588.5,374.2L587.2,372.8L585.9,371.5L584.6,370L583.3,368.6L581.9,367.2L580.6,365.8L579.3,364.4L578,363L576.7,361.7L575.5,360.3L574.2,359L573,357.7L571.8,356.4L570.5,355L569.3,353.7L568.1,352.3L566.8,350.9L565.5,349.5L564.2,348L562.8,346.5L561.5,344.9L560.1,343.3L558.7,341.7L557.3,340.1L556,338.5L554.6,336.9L553.3,335.4L552,334L550.8,332.6L549.6,331.3L548.4,330L547.2,328.7L546.1,327.5L544.9,326.3L543.8,325.1L542.6,323.9L541.3,322.7L540,321.5L538.7,320.3L537.4,319.2L536,318L534.7,316.9L533.3,315.8L531.9,314.7L530.3,313.5L528.7,312.4L526.9,311.2L525,310L522.9,308.7L520.6,307.4L518.2,306.1L515.7,304.7Z" fill="#f0141a"/>
<path id="separation" d="M-5,309.4C-4.2,309.3 -10.8,310 0,308.9C10.8,307.8 40.8,304.7 60,302.6C79.2,300.5 91.7,299.3 115,296.4C138.3,293.5 176.5,287.6 200,285C223.5,282.4 239.3,282 256,280.5C272.7,279 284.3,277.3 300,276C315.7,274.7 337.5,273.2 350,272.5C362.5,271.8 366.7,271.3 375,271.5C383.3,271.7 391.7,272.5 400,273.5C408.3,274.5 416.7,276 425,277.5C433.3,279 441.7,280.6 450,282.5C458.3,284.4 466.7,286.6 475,289C483.3,291.4 491.7,293.5 500,297C508.3,300.5 518.3,305.9 525,310C531.7,314.1 535.5,317.5 540,321.5C544.5,325.5 547.8,329.3 552,334C556.2,338.7 561.2,344.7 565.5,349.5C569.8,354.3 573.8,358.5 578,363C582.2,367.5 587,372.7 591,376.7C595,380.7 598,383.6 602,387C606,390.4 610,393.7 615,397C620,400.3 626.2,404.3 632,407C637.8,409.7 644.4,411.4 650,413.2C655.6,415 660.4,416.3 665.6,417.6C670.8,418.9 675.8,419.8 681,421C686.2,422.2 689.2,423.3 697,424.6C704.8,425.9 717.6,427.9 728,428.8C738.4,429.7 750.7,430 759.4,430C768.1,430 774.8,429.4 780,428.8C785.2,428.2 787.9,427.4 790.6,426.6C793.4,425.8 795,425 796.5,424C798,423 798.2,421.7 799.3,420.6C800.4,419.5 801.2,418.4 803,417.6C804.8,416.8 807.5,416.3 810,415.6C812.5,414.9 813,414.8 818,413.6C823,412.4 831.7,410.4 840,408.5C848.3,406.6 855,404.7 868,402.5C881,400.3 901.3,397.4 918,395.5C934.7,393.6 950.3,392.1 968,391C985.7,389.9 1013.7,389.3 1024,389C1034.3,388.7 1029,389 1030,389" fill="none" stroke="#f0141a" stroke-width="4.1" stroke-linejoin="round"/>
<g id="wing-elements">
<clipPath id="c1"><path d="M579.7,352.8C580.5,353 585,356 588,357.7C591,359.4 594,361.2 597.6,363.2C601.2,365.1 606.4,367.9 609.5,369.4C612.6,370.9 614.3,371.3 616,372.3C617.7,373.3 619.1,374.2 619.6,375.2C620.1,376.2 619.7,377.5 618.8,378.2C617.9,378.9 616.6,379.5 614.4,379.2C612.2,378.9 608.6,378.2 605.5,376.6C602.4,375 598.6,372.3 595.6,369.8C592.6,367.3 589.8,364 587.7,361.8C585.6,359.6 584.3,358.1 583,356.6C581.7,355.1 578.9,352.6 579.7,352.8Z"/></clipPath><path d="M579.7,352.8C580.5,353 585,356 588,357.7C591,359.4 594,361.2 597.6,363.2C601.2,365.1 606.4,367.9 609.5,369.4C612.6,370.9 614.3,371.3 616,372.3C617.7,373.3 619.1,374.2 619.6,375.2C620.1,376.2 619.7,377.5 618.8,378.2C617.9,378.9 616.6,379.5 614.4,379.2C612.2,378.9 608.6,378.2 605.5,376.6C602.4,375 598.6,372.3 595.6,369.8C592.6,367.3 589.8,364 587.7,361.8C585.6,359.6 584.3,358.1 583,356.6C581.7,355.1 578.9,352.6 579.7,352.8Z" fill="#ffd21c" stroke="#0a0f08" stroke-width="0.5"/><g clip-path="url(#c1)"><g stroke="#3a3000" stroke-width="0.9" stroke-opacity="0.8"><path d="M604.5,355 L595.5,385"/><path d="M612,355 L603,385"/><path d="M619.5,355 L610.5,385"/></g><path d="M579.7,352.8C580.5,353 585,356 588,357.7C591,359.4 594,361.2 597.6,363.2C601.2,365.1 606.4,367.9 609.5,369.4C612.6,370.9 614.3,371.3 616,372.3C617.7,373.3 619.1,374.2 619.6,375.2C620.1,376.2 619.7,377.5 618.8,378.2C617.9,378.9 616.6,379.5 614.4,379.2C612.2,378.9 608.6,378.2 605.5,376.6C602.4,375 598.6,372.3 595.6,369.8C592.6,367.3 589.8,364 587.7,361.8C585.6,359.6 584.3,358.1 583,356.6C581.7,355.1 578.9,352.6 579.7,352.8Z" fill="none" stroke="#0a0f08" stroke-width="3.8" stroke-linejoin="round"/></g>
<clipPath id="c2"><path d="M605.5,381C605.6,380.7 609.7,383.4 612,384.6C614.3,385.8 616.5,387.2 619.4,388.3C622.3,389.4 626,390.4 629.3,391C632.6,391.6 636.5,391.6 639.2,392C641.9,392.4 644.2,392.9 645.6,393.6C647,394.3 647.5,395.5 647.4,396.4C647.3,397.3 646.4,398.6 645,399C643.6,399.4 641.8,399.4 639.2,399C636.6,398.6 632.6,397.7 629.3,396.6C626,395.5 622.4,394.3 619.4,392.6C616.4,390.9 613.8,388.5 611.5,386.6C609.2,384.7 605.4,381.3 605.5,381Z"/></clipPath><path d="M605.5,381C605.6,380.7 609.7,383.4 612,384.6C614.3,385.8 616.5,387.2 619.4,388.3C622.3,389.4 626,390.4 629.3,391C632.6,391.6 636.5,391.6 639.2,392C641.9,392.4 644.2,392.9 645.6,393.6C647,394.3 647.5,395.5 647.4,396.4C647.3,397.3 646.4,398.6 645,399C643.6,399.4 641.8,399.4 639.2,399C636.6,398.6 632.6,397.7 629.3,396.6C626,395.5 622.4,394.3 619.4,392.6C616.4,390.9 613.8,388.5 611.5,386.6C609.2,384.7 605.4,381.3 605.5,381Z" fill="#ffd21c" stroke="#0a0f08" stroke-width="0.5"/><g clip-path="url(#c2)"><g stroke="#3a3000" stroke-width="0.9" stroke-opacity="0.8"><path d="M629.5,382 L622.5,402"/><path d="M637.5,382 L630.5,402"/><path d="M645.5,382 L638.5,402"/></g><path d="M605.5,381C605.6,380.7 609.7,383.4 612,384.6C614.3,385.8 616.5,387.2 619.4,388.3C622.3,389.4 626,390.4 629.3,391C632.6,391.6 636.5,391.6 639.2,392C641.9,392.4 644.2,392.9 645.6,393.6C647,394.3 647.5,395.5 647.4,396.4C647.3,397.3 646.4,398.6 645,399C643.6,399.4 641.8,399.4 639.2,399C636.6,398.6 632.6,397.7 629.3,396.6C626,395.5 622.4,394.3 619.4,392.6C616.4,390.9 613.8,388.5 611.5,386.6C609.2,384.7 605.4,381.3 605.5,381Z" fill="none" stroke="#0a0f08" stroke-width="3.8" stroke-linejoin="round"/></g>
<clipPath id="c3"><path d="M628.5,400.8C630.2,400.9 642.2,404.5 650,405.5C657.8,406.5 666.7,406.4 675,406.6C683.3,406.8 693.5,406.5 700,406.6C706.5,406.7 710.4,406.7 714,407.4C717.6,408.1 720.1,409.6 721.5,410.8C722.9,412 723,413.3 722.5,414.5C722,415.7 721.4,417.1 718.5,417.8C715.6,418.5 709.9,418.7 705,418.6C700.1,418.5 695.6,418.3 689,417.3C682.4,416.3 672.1,414.1 665.6,412.6C659.1,411.2 654.3,409.8 650,408.6C645.7,407.4 643.6,406.5 640,405.2C636.4,403.9 626.8,400.8 628.5,400.8Z"/></clipPath><path d="M628.5,400.8C630.2,400.9 642.2,404.5 650,405.5C657.8,406.5 666.7,406.4 675,406.6C683.3,406.8 693.5,406.5 700,406.6C706.5,406.7 710.4,406.7 714,407.4C717.6,408.1 720.1,409.6 721.5,410.8C722.9,412 723,413.3 722.5,414.5C722,415.7 721.4,417.1 718.5,417.8C715.6,418.5 709.9,418.7 705,418.6C700.1,418.5 695.6,418.3 689,417.3C682.4,416.3 672.1,414.1 665.6,412.6C659.1,411.2 654.3,409.8 650,408.6C645.7,407.4 643.6,406.5 640,405.2C636.4,403.9 626.8,400.8 628.5,400.8Z" fill="#ffd21c" stroke="#0a0f08" stroke-width="0.5"/><g clip-path="url(#c3)"><g stroke="#3a3000" stroke-width="0.9" stroke-opacity="0.8"><path d="M674.1,404 L668.9,420"/><path d="M684.4,404 L679.2,420"/><path d="M694.7,404 L689.5,420"/><path d="M705,404 L699.8,420"/><path d="M715.3,404 L710.1,420"/></g><path d="M628.5,400.8C630.2,400.9 642.2,404.5 650,405.5C657.8,406.5 666.7,406.4 675,406.6C683.3,406.8 693.5,406.5 700,406.6C706.5,406.7 710.4,406.7 714,407.4C717.6,408.1 720.1,409.6 721.5,410.8C722.9,412 723,413.3 722.5,414.5C722,415.7 721.4,417.1 718.5,417.8C715.6,418.5 709.9,418.7 705,418.6C700.1,418.5 695.6,418.3 689,417.3C682.4,416.3 672.1,414.1 665.6,412.6C659.1,411.2 654.3,409.8 650,408.6C645.7,407.4 643.6,406.5 640,405.2C636.4,403.9 626.8,400.8 628.5,400.8Z" fill="none" stroke="#0a0f08" stroke-width="3.8" stroke-linejoin="round"/></g>
<clipPath id="c4"><path d="M701.6,423.6C702,423.5 710.6,424.5 715,424.6C719.4,424.8 723.2,424.8 728,424.5C732.8,424.2 738.5,423.9 743.7,423C748.9,422.1 754.2,420.2 759.4,419C764.6,417.8 770.3,416.3 775,415.6C779.7,414.9 784.3,414.5 787.5,414.6C790.7,414.7 792.5,415.3 794,416.2C795.5,417.1 796.2,418.6 796.2,419.8C796.2,421 795.5,422.5 794,423.4C792.5,424.3 790.7,424.8 787.5,425.4C784.3,426 779.7,426.5 775,426.9C770.3,427.3 764.6,427.6 759.4,427.7C754.2,427.8 748.9,427.8 743.7,427.7C738.5,427.6 733.2,427.3 728,426.9C722.8,426.5 716.9,425.9 712.5,425.4C708.1,424.8 701.2,423.7 701.6,423.6Z"/></clipPath><path d="M701.6,423.6C702,423.5 710.6,424.5 715,424.6C719.4,424.8 723.2,424.8 728,424.5C732.8,424.2 738.5,423.9 743.7,423C748.9,422.1 754.2,420.2 759.4,419C764.6,417.8 770.3,416.3 775,415.6C779.7,414.9 784.3,414.5 787.5,414.6C790.7,414.7 792.5,415.3 794,416.2C795.5,417.1 796.2,418.6 796.2,419.8C796.2,421 795.5,422.5 794,423.4C792.5,424.3 790.7,424.8 787.5,425.4C784.3,426 779.7,426.5 775,426.9C770.3,427.3 764.6,427.6 759.4,427.7C754.2,427.8 748.9,427.8 743.7,427.7C738.5,427.6 733.2,427.3 728,426.9C722.8,426.5 716.9,425.9 712.5,425.4C708.1,424.8 701.2,423.7 701.6,423.6Z" fill="#ffd21c" stroke="#0a0f08" stroke-width="0.5"/><g clip-path="url(#c4)"><g stroke="#3a3000" stroke-width="0.9" stroke-opacity="0.8"><path d="M745.2,412 L738.8,430"/><path d="M756.2,412 L749.8,430"/><path d="M767.2,412 L760.8,430"/><path d="M778.2,412 L771.8,430"/><path d="M789.2,412 L782.8,430"/></g><path d="M701.6,423.6C702,423.5 710.6,424.5 715,424.6C719.4,424.8 723.2,424.8 728,424.5C732.8,424.2 738.5,423.9 743.7,423C748.9,422.1 754.2,420.2 759.4,419C764.6,417.8 770.3,416.3 775,415.6C779.7,414.9 784.3,414.5 787.5,414.6C790.7,414.7 792.5,415.3 794,416.2C795.5,417.1 796.2,418.6 796.2,419.8C796.2,421 795.5,422.5 794,423.4C792.5,424.3 790.7,424.8 787.5,425.4C784.3,426 779.7,426.5 775,426.9C770.3,427.3 764.6,427.6 759.4,427.7C754.2,427.8 748.9,427.8 743.7,427.7C738.5,427.6 733.2,427.3 728,426.9C722.8,426.5 716.9,425.9 712.5,425.4C708.1,424.8 701.2,423.7 701.6,423.6Z" fill="none" stroke="#0a0f08" stroke-width="3.8" stroke-linejoin="round"/></g>
</g>
<g id="streamlines">
<g fill="none" stroke="#c8243a" stroke-width="1.7" stroke-linecap="butt">
<path d="M109.3,302.6C116.1,301.8 134.9,299.9 150,298C165.1,296.1 182.3,293.4 200,291.5C217.7,289.6 239.3,287.7 256,286.3C272.7,284.9 284.3,284 300,283C315.7,282 337.5,280.8 350,280.3C362.5,279.8 366.7,279.9 375,280C383.3,280.1 391.7,280.1 400,281C408.3,281.9 416.7,283.6 425,285.5C433.3,287.4 441.7,290.2 450,292.5C458.3,294.8 466.7,296.5 475,299.4C483.3,302.3 492.5,306.4 500,310C507.5,313.6 513.3,317 520,321C526.7,325 534,330.2 540,334C546,337.8 553.3,342.3 556,344"/>
<path d="M121.5,315.8C127.9,315.1 146.9,313.1 160,311.5C173.1,309.9 184,307.6 200,306C216,304.4 239.3,303 256,302C272.7,301 284.3,300.5 300,300C315.7,299.5 337.5,298.9 350,298.8C362.5,298.7 366.7,298.9 375,299.3C383.3,299.7 387.5,299.2 400,301C412.5,302.8 437.5,307.5 450,310C462.5,312.5 468,314.3 475,316C482,317.7 483.7,317.2 492,320C500.3,322.8 515.3,328.7 525,332.5C534.7,336.3 543.2,340.1 550,343C556.8,345.9 563.3,348.8 566,350"/>
<path d="M149.5,385.2C157.9,382.8 183.2,375.4 200,370.5C216.8,365.6 233.3,360.4 250,356C266.7,351.6 283.3,347.3 300,344C316.7,340.7 337.5,337.6 350,336C362.5,334.4 366.7,334.6 375,334.3C383.3,334 391.7,333.9 400,334C408.3,334.1 416.7,334.2 425,335.2C433.3,336.2 441.7,337.9 450,339.8C458.3,341.7 466.7,344.1 475,346.6C483.3,349.1 491.7,351.3 500,355C508.3,358.7 516.7,364.3 525,369C533.3,373.7 541.7,378.6 550,383C558.3,387.4 566.7,391.3 575,395.5C583.3,399.7 591.7,403.8 600,408C608.3,412.2 616.7,416.6 625,420.5C633.3,424.4 641.7,428.4 650,431.5C658.3,434.6 666.7,437.2 675,439C683.3,440.8 689.2,441.7 700,442.5C710.8,443.3 728.7,443.9 740,444C751.3,444.1 758,443.8 768,443C778,442.2 789.7,441.1 800,439.5C810.3,437.9 819.9,435.6 830,433.5C840.1,431.4 850.5,429.1 860.5,427C870.5,424.9 880.4,422.8 890,421C899.6,419.2 905,417.8 918,416C931,414.2 950,411.4 968,410C986,408.6 1016.3,407.8 1026,407.3"/>
<path d="M166.3,420.4C171.9,418.5 186.1,413.3 200,408.8C213.9,404.3 233.3,398.4 250,393.6C266.7,388.8 283.3,383.5 300,379.8C316.7,376.1 337.5,373.3 350,371.6C362.5,369.9 366.7,370.1 375,369.8C383.3,369.5 391.7,369.6 400,370C408.3,370.4 416.7,370.9 425,372C433.3,373.1 441.7,374.6 450,376.6C458.3,378.6 466.7,381.1 475,384C483.3,386.9 492.2,390.5 500,394C507.8,397.5 513.7,401.2 522,405C530.3,408.8 538.7,411.9 550,416.5C561.3,421.1 578.3,427.8 590,432.5C601.7,437.2 610,441.2 620,445C630,448.8 640.8,452.9 650,455.5C659.2,458.1 666.7,459.1 675,460.5C683.3,461.9 689.2,463.1 700,464C710.8,464.9 728.7,465.8 740,466C751.3,466.2 758.7,465.8 768,465C777.3,464.2 787.7,462.8 796,461.5C804.3,460.2 806,460.1 818,457.5C830,454.9 852,449.4 868,446C884,442.6 897.3,439.7 914,437C930.7,434.3 949.3,431.7 968,430C986.7,428.3 1016.3,427.3 1026,426.8"/>
<path d="M572.5,339.7C575.4,340.7 582.9,343.6 590,345.5C597.1,347.4 606.7,349.3 615,350.8C623.3,352.3 631.7,353.5 640,354.3C648.3,355.1 656.7,355.5 665,355.6C673.3,355.7 681.9,355.2 690,354.8C698.1,354.4 705.4,354 713.7,353.3C722,352.6 731,351.6 740,350.6C749,349.6 755,349.3 768,347.3C781,345.3 801.3,341.7 818,338.8C834.7,335.9 851.3,333.1 868,330C884.7,326.9 901.3,323.3 918,320.5C934.7,317.7 950,315 968,313C986,311 1016.3,309.3 1026,308.6"/>
<path d="M576.3,349C577.8,350.2 581,353.5 585,356C589,358.5 595,361.8 600,364C605,366.2 608.3,367.5 615,369C621.7,370.5 631.7,372 640,372.8C648.3,373.6 656.7,373.9 665,373.9C673.3,373.9 680.6,373.4 690,373C699.4,372.6 713.1,371.9 721.4,371.2C729.7,370.5 732.2,370 740,368.9C747.8,367.8 755,366.8 768,364.5C781,362.2 801.3,358.3 818,355C834.7,351.7 851.3,347.8 868,344.5C884.7,341.2 901.3,338.1 918,335.5C934.7,332.9 950,330.6 968,329C986,327.4 1016.3,326.4 1026,325.9"/>
<path d="M609.5,380.3C611.8,381 618.4,383.1 623.5,384.3C628.6,385.5 633.1,386.5 640,387.3C646.9,388.1 656.7,389.1 665,389.3C673.3,389.6 677.5,389.5 690,388.8C702.5,388.1 727,386.4 740,385.2C753,384 755,383.9 768,381.6C781,379.3 801.3,374.9 818,371.5C834.7,368.1 851.3,364.1 868,361C884.7,357.9 901.3,355.2 918,353C934.7,350.8 950,349.2 968,348C986,346.8 1016.3,346.2 1026,345.9"/>
<path d="M636,400C638.3,400.3 644.3,401.3 650,401.7C655.7,402.1 663.3,402.4 670,402.6C676.7,402.8 678.3,403.2 690,402.8C701.7,402.4 727,401.2 740,400C753,398.8 755,397.9 768,395.7C781,393.4 801.3,389.7 818,386.5C834.7,383.3 851.3,379.4 868,376.5C884.7,373.6 901.3,370.9 918,369C934.7,367.1 950,365.9 968,365C986,364.1 1016.3,364.1 1026,363.9"/>
<path d="M690,420.6C694.2,420.4 706.8,420.2 715,419.6C723.2,419 730.2,418.4 739,417C747.8,415.6 758.5,413 768,411.2C777.5,409.4 787.7,407.8 796,406.3C804.3,404.8 806,404.3 818,402C830,399.7 851.3,395.1 868,392.4C884.7,389.7 901.3,387.5 918,385.6C934.7,383.7 950,382.2 968,381.2C986,380.2 1016.3,379.9 1026,379.6"/>
</g>
<path d="M109.3,302.6 L117.3,298.1 L118,305.2 Z" fill="#e5141e"/>
<path d="M471.5,298.3 L480.6,297.2 L478.5,304.1 Z" fill="#e5141e"/>
<path d="M121.5,315.8 L129.5,311.3 L130.2,318.5 Z" fill="#e5141e"/>
<path d="M488,318.8 L497.1,317.6 L495.1,324.5 Z" fill="#e5141e"/>
<path d="M149.5,385.2 L156.6,379.4 L158.6,386.3 Z" fill="#e5141e"/>
<path d="M521.7,367.1 L530.8,368.3 L527.1,374.5 Z" fill="#e5141e"/>
<path d="M671.5,438.2 L680.5,436.8 L678.8,443.7 Z" fill="#e5141e"/>
<path d="M857.5,427.6 L865,422.4 L866.5,429.4 Z" fill="#e5141e"/>
<path d="M166.3,420.4 L173,414.2 L175.4,421 Z" fill="#e5141e"/>
<path d="M518.7,403.5 L527.8,404 L524.6,410.4 Z" fill="#e5141e"/>
<path d="M671,459.8 L679.9,457.6 L678.7,464.8 Z" fill="#e5141e"/>
<path d="M910.5,437.6 L918.2,432.7 L919.4,439.8 Z" fill="#e5141e"/>
<path d="M572.5,339.7 L581.6,339.1 L579.3,345.9 Z" fill="#e5141e"/>
<path d="M825,337.6 L832.7,332.6 L833.9,339.7 Z" fill="#e5141e"/>
<path d="M576.3,349 L585,351.7 L580.4,357.2 Z" fill="#e5141e"/>
<path d="M828,352.9 L835.5,347.7 L837,354.7 Z" fill="#e5141e"/>
<path d="M623.5,384.3 L632.5,382.7 L630.9,389.7 Z" fill="#e5141e"/>
<path d="M833.5,368.2 L840.9,362.9 L842.5,369.9 Z" fill="#e5141e"/>
<path d="M667,402.5 L675.5,399.2 L675.3,406.4 Z" fill="#e5141e"/>
<path d="M838,382.4 L845.5,377.2 L847,384.2 Z" fill="#e5141e"/>
<path d="M736,417.5 L743.8,412.6 L744.8,419.8 Z" fill="#e5141e"/>
<path d="M843,397 L850.5,391.9 L851.9,398.9 Z" fill="#e5141e"/>
</g>
<g id="label">
<path d="M720,256.7 L912,256.7 L994,390" fill="none" stroke="#143a3e" stroke-width="1.2"/>
<text x="720" y="253.8" font-size="15.9" font-weight="700" font-style="italic" fill="#04141a" stroke="#04141a" stroke-width="0.35" textLength="128" lengthAdjust="spacingAndGlyphs">SEPARATION LINE</text>
</g>
<g id="ground">
<rect x="0" y="503.8" width="865" height="2" fill="#05070c"/>
<g stroke="#3c3c3c" stroke-width="1" fill="none">
<path d="M78.7,505.6 L62.2,533.8"/>
<path d="M132.8,505.6 L116.3,533.8"/>
<path d="M180.3,505.6 L163.8,533.8"/>
<path d="M232.4,505.6 L215.9,533.8"/>
<path d="M284.2,505.6 L267.7,533.8"/>
<path d="M335.3,505.6 L318.8,533.8"/>
<path d="M386.5,505.6 L370,533.8"/>
<path d="M441.6,505.6 L425.1,533.8"/>
<path d="M492.7,505.6 L476.2,533.8"/>
<path d="M554.1,505.6 L537.6,533.8"/>
<path d="M615.6,505.6 L599.1,533.8"/>
<path d="M661,505.6 L644.5,533.8"/>
<path d="M715.5,505.6 L699,533.8"/>
<path d="M762,505.6 L745.5,533.8"/>
<path d="M807.8,505.6 L791.3,533.8"/>
<path d="M860,505.6 L843.5,533.8"/>
</g>
</g>
<text y="57.5" font-size="24.1" font-weight="700" font-style="italic" fill="#000" stroke="#000" stroke-width="0.3"><tspan x="26.5" textLength="81.5" lengthAdjust="spacingAndGlyphs">AMR22</tspan> <tspan x="114.5" textLength="8.3" lengthAdjust="spacingAndGlyphs">-</tspan> <tspan x="129.5" textLength="71.4" lengthAdjust="spacingAndGlyphs">CROSS</tspan> <tspan x="207.5" textLength="93" lengthAdjust="spacingAndGlyphs">SECTION</tspan> <tspan x="310.4" textLength="23.3" lengthAdjust="spacingAndGlyphs">AT</tspan> <tspan x="345.9" textLength="123.5" lengthAdjust="spacingAndGlyphs">MAXIMUM</tspan> <tspan x="477.7" textLength="63.1" lengthAdjust="spacingAndGlyphs">WING</tspan> <tspan x="549.1" textLength="74.7" lengthAdjust="spacingAndGlyphs">ANGLE</tspan></text>
<g id="logo">
<path d="M783.2,640.2 L802.5,640.2 C808,640.2 811.7,644.5 811.7,650 C811.7,655 808.8,658.8 804.6,660 L814.8,671.8 L809,671.8 L796,656.3 L802.5,656.3 C805.5,656.3 807.4,653.6 807.4,650.4 C807.4,647 805.5,644.6 802.5,644.6 L786.7,644.6 Z" fill="#0a0a0a"/>
<text y="663.7" font-size="14.2" fill="#5a5a5a" x="827 841 855.6 868 881 894.8 909.3 923.8">THE RACE</text>
<rect x="946.4" y="640.2" width="1.3" height="35" fill="#6a6a6a"/>
<g fill="none" stroke="#222" stroke-width="0.85" stroke-linecap="round" stroke-linejoin="round">
<path d="M959,655 C962,650 966,644.5 969.5,643.5 C971.5,643 970.8,646 969.8,649 C968.2,654.5 967,660 966.3,664.5 C966,667.5 967.3,671 968.6,671.3 C969.6,671.4 969.4,668 968.8,665.5 C968,662 967.2,659.5 968.4,657.8"/>
<path d="M967.5,658 C970,655.5 973,652 975,650.5 C976.3,649.6 976.2,651.5 975,653.3 C977,651.5 979.5,648.5 981.8,646.5"/>
<path d="M967.2,662.5 C970.5,660 973,657.5 975.5,656.5 C976.5,656.3 975.5,658.3 976.5,658 C978,657.4 979,655.6 980.3,655.2 C981,655.1 980.6,656.6 981.6,656.2 C983,655.5 984,654 985.5,652.8"/>
<path d="M984.2,653.3 L987.5,650.4 L985.6,656.8 L989.6,652.6 L988,657.8 L984,658.2 Z M986,651.5 L988.8,656.5"/>
</g>
</g>
</svg>
</body>
</html>
